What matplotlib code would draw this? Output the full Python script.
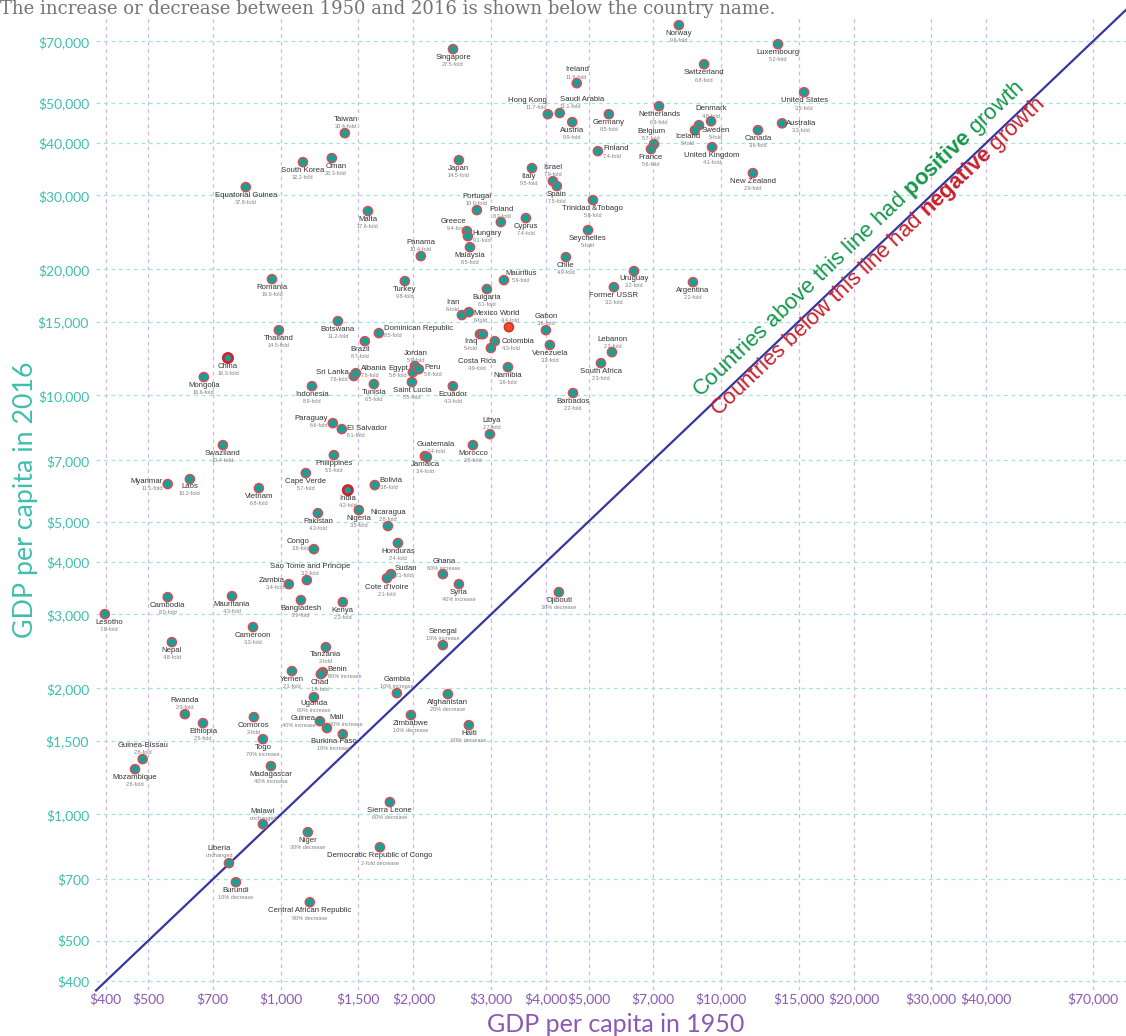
import math
import matplotlib
matplotlib.use("Agg")
import matplotlib.pyplot as plt
from matplotlib.ticker import FixedLocator, FixedFormatter, NullLocator

plt.rcParams['mathtext.fontset'] = 'custom'
plt.rcParams['mathtext.rm'] = 'Liberation Sans'
plt.rcParams['mathtext.bf'] = 'Liberation Sans:bold'

# ---------------- data ----------------
countries = [
    "Norway", "Luxembourg", "Singapore", "Switzerland", "Ireland", "United States",
    "Hong Kong", "Saudi Arabia", "Austria", "Germany", "Netherlands", "Denmark",
    "Australia", "Sweden", "Iceland", "Canada", "Belgium", "France", "Finland",
    "United Kingdom", "Taiwan", "Japan", "Israel", "Italy", "Oman", "South Korea",
    "Spain", "New Zealand", "Equatorial Guinea", "Trinidad &Tobago", "Portugal",
    "Poland", "Malta", "Cyprus", "Greece", "Hungary", "Seychelles", "Malaysia",
    "Panama", "Chile", "Uruguay", "Argentina", "Romania", "Turkey", "Mauritius",
    "Bulgaria", "Former USSR", "Iran", "Mexico", "World", "Botswana",
    "Dominican Republic", "Gabon", "Thailand", "Iraq", "", "Colombia", "Costa Rica",
    "Brazil", "Lebanon", "Venezuela", "China", "Jordan", "Sri Lanka", "Albania",
    "Egypt", "Peru", "Mongolia", "South Africa", "Tunisia", "Namibia", "Saint Lucia",
    "Indonesia", "Ecuador", "Barbados", "Libya", "Paraguay", "El Salvador",
    "Guatemala", "Morocco", "Swaziland", "Jamaica", "Philippines", "Myanmar", "Laos",
    "Cape Verde", "Bolivia", "Vietnam", "India", "Nicaragua", "Pakistan", "Nigeria",
    "Congo", "Honduras", "Ghana", "Sao Tome and Principe", "Sudan", "Zambia", "Syria",
    "Djibouti", "Cote d'Ivoire", "Cambodia", "Mauritania", "Bangladesh", "Kenya",
    "Lesotho", "Cameroon", "Senegal", "Nepal", "Tanzania", "Benin", "Yemen", "Chad",
    "Gambia", "Afghanistan", "Rwanda", "Uganda", "Comoros", "Guinea", "Mali",
    "Ethiopia", "Zimbabwe", "Haiti", "Burkina Faso", "Togo", "Guinea-Bissau",
    "Mozambique", "Madagascar", "Sierra Leone", "Malawi", "Niger",
    "Democratic Republic of Congo", "Liberia", "Burundi", "Central African Republic",
]

gdp_1950 = [
    8020, 13470, 2460, 9150, 4700, 15440,
    4040, 4300, 4590, 5560, 7230, 9490,
    13760, 8910, 8720, 12130, 7040, 6930, 5250,
    9540, 1397, 2537, 4149, 3718, 1305, 1122,
    4236, 11810, 832, 5115, 2787,
    3160, 1576, 3602, 2646, 2659, 4985, 2688,
    2079, 4441, 6340, 8633, 954, 1912, 3211,
    2937, 5708, 2577, 2673, 3296, 1347,
    1669, 4000, 989, 2832, 2877, 3062, 2999,
    1551, 5650, 4084, 758, 2015, 1464, 1480,
    1994, 2058, 668, 5335, 1626, 3279, 1984,
    1176, 2458, 4609, 2984, 1312, 1375,
    2123, 2730, 738, 2146, 1319, 553, 621,
    1139, 1634, 891, 1419, 1750, 1213, 1503,
    1188, 1844, 2333, 1145, 1778, 1042, 2537,
    4281, 1741, 553, 774, 1110, 1382,
    398, 864, 2333, 565, 1265, 1245, 1059, 1232,
    1834, 2395, 605, 1188, 868, 1226, 1272,
    665, 1974, 2673, 1382, 910, 485,
    466, 949, 1768, 910, 1151,
    1678, 762, 790, 1163,
]

gdp_2016 = [
    76500, 68900, 67050, 61700, 55600, 52900,
    46900, 47200, 44900, 46900, 49000, 45100,
    44600, 44150, 42960, 42960, 39780, 38700, 38280,
    39130, 42260, 36430, 32460, 34860, 36840, 36030,
    31590, 33920, 31410, 29240, 27680,
    25920, 27530, 26490, 24660, 23990, 24800, 22580,
    21500, 21380, 19800, 18630, 18940, 18740, 18840,
    17940, 18130, 15550, 15800, 14550, 15040,
    14080, 14310, 14310, 14000, 14000, 13470, 12970,
    13470, 12680, 13190, 12280, 11750, 11120, 11300,
    11360, 11550, 11060, 11940, 10640, 11680, 10760,
    10520, 10520, 10130, 8082, 8585, 8309,
    7164, 7609, 7609, 7125, 7202, 6143, 6312,
    6524, 6109, 6007, 5941, 4877, 5236, 5325,
    4296, 4442, 3745, 3623, 3745, 3544, 3544,
    3392, 3663, 3300, 3318, 3246, 3211,
    3006, 2799, 2535, 2577, 2507, 2185, 2198, 2161,
    1947, 1937, 1735, 1905, 1707, 1669, 1607,
    1651, 1726, 1633, 1554, 1512, 1355,
    1282, 1304, 1070, 948, 907,
    835, 765, 689, 617,
]

change_labels = [
    "9.6-fold", "5.2-fold", "27.5-fold", "6.8-fold", "11.9-fold", "3.5-fold",
    "11.7-fold", "11.1-fold", "9.9-fold", "8.5-fold", "6.9-fold", "4.8-fold",
    "3.3-fold", "5-fold", "5-fold", "3.6-fold", "5.7-fold", "5.6-fold", "7.4-fold",
    "4.1-fold", "30.4-fold", "14.5-fold", "7.9-fold", "9.5-fold", "28.3-fold", "32.2-fold",
    "7.5-fold", "2.9-fold", "37.8-fold", "5.8-fold", "10.0-fold",
    "8.3-fold", "17.6-fold", "7.4-fold", "9.4-fold", "9.1-fold", "5-fold", "8.5-fold",
    "10.4-fold", "4.9-fold", "3.2-fold", "2.2-fold", "19.9-fold", "9.8-fold", "5.9-fold",
    "6.1-fold", "3.2-fold", "6-fold", "6-fold", "4.4-fold", "11.2-fold",
    "8.5-fold", "3.6-fold", "14.5-fold", "5-fold", "", "4.3-fold", "4.9-fold",
    "8.7-fold", "2.3-fold", "3.2-fold", "16.3-fold", "5.9-fold", "7.6-fold", "7.6-fold",
    "5.8-fold", "5.8-fold", "16.6-fold", "2.3-fold", "6.5-fold", "3.6-fold", "5.5-fold",
    "8.9-fold", "4.3-fold", "2.2-fold", "2.7-fold", "6.6-fold", "6.1-fold",
    "3.4-fold", "2.8-fold", "10.4-fold", "3.4-fold", "5.5-fold", "11.1-fold", "10.2-fold",
    "5.7-fold", "3.8-fold", "6.8-fold", "4.2-fold", "2.8-fold", "4.3-fold", "3.5-fold",
    "3.6-fold", "2.4-fold", "60% increase", "3.2-fold", "2.1-fold", "3.4-fold", "40% increase",
    "30% decrease", "2.1-fold", "8.0-fold", "4.3-fold", "2.9-fold", "2.3-fold",
    "7.6-fold", "3.3-fold", "10% increase", "4.8-fold", "2-fold", "80% increase", "2.1-fold", "1.8-fold",
    "10% increase", "20% decrease", "2.9-fold", "60% increase", "2-fold", "40% increase", "30% increase",
    "2.5-fold", "10% decrease", "60% decrease", "10% increase", "70% increase", "2.8-fold",
    "2.8-fold", "40% increase", "60% decrease", "unchanged", "30% decrease",
    "2-fold decrease", "unchanged", "10% decrease", "90% decrease",
]

x_ticks = [400, 500, 700, 1000, 1500, 2000, 3000, 4000, 5000, 7000,
           10000, 15000, 20000, 30000, 40000, 70000]
y_ticks = [400, 500, 700, 1000, 1500, 2000, 3000, 4000, 5000, 7000,
           10000, 15000, 20000, 30000, 40000, 50000, 70000]

highlighted = ["China", "India"]
world_name = "World"

title_text = "The increase or decrease between 1950 and 2016 is shown below the country name."
x_label = "GDP per capita in 1950"
y_label = "GDP per capita in 2016"
above_text = r"Countries above this line had $\mathbf{positive}$ growth"
below_text = r"Countries below this line had $\mathbf{negative}$ growth"

# ---------------- label layout (pixels; dy positive = down) ----------------
BELOW = ("center", 0, 8.5)
ABOVE = ("center", 0, -13.5)
RIGHT = ("left", 5, -3.5)
LEFT = ("right", -5, -3.5)
label_layout = {
    "Hong Kong": ("right", -1, -14), "Saudi Arabia": ("left", 0, -14),
    "Denmark": ("center", 0, -12.5), "Sweden": ("center", 17, 5.5),
    "Iceland": ("center", -7, 6.5), "Belgium": ("center", -3, -13),
    "Italy": ("center", -3, 8), "Greece": ("right", -1, -10),
    "Hungary": ("left", 5, -3), "Mauritius": ("center", 17, -7),
    "Australia": ("center", 19, 0), "Brazil": ("center", -5, 8.5),
    "Jordan": ("center", 1, -13), "Albania": ("left", 5, -5),
    "Sri Lanka": ("right", -5, -4), "Egypt": ("right", -5, -4),
    "Peru": ("left", 5, -2), "Paraguay": ("right", -5, -4.5),
    "El Salvador": ("left", 5, -1), "Guatemala": ("center", 11, -12),
    "Jamaica": ("center", -2, 7.5), "Myanmar": ("right", -5, -3),
    "Laos": ("center", 0, 7), "Bolivia": ("left", 5, -5),
    "Nicaragua": ("center", 0, -14), "Congo": ("right", -4, -7.5),
    "Sao Tome and Principe": ("center", 3, -13.5), "Zambia": ("right", -4, -4),
    "Sudan": ("left", 4, -6), "Lesotho": ("center", 4, 8.5),
    "Ghana": ("center", 1, -12.5), "Iran": ("center", -9, -13),
    "Mexico": ("left", 5, 1), "World": ("center", 1, -14),
    "Gabon": ABOVE, "Iraq": ("center", -9, 7), "Colombia": ("left", 7, 0),
    "Costa Rica": ("center", -14, 13), "Lebanon": ("center", 1, -13),
    "Libya": ("center", 2, -14), "Senegal": ABOVE, "Benin": ("left", 5, -3),
    "Gambia": ABOVE, "Guinea": ("right", -4, -2.7), "Mali": ("left", 2, -11),
    "Burkina Faso": ("center", -9, 7), "Malawi": ("center", 0, -13),
    "Rwanda": ABOVE, "Guinea-Bissau": ABOVE, "Liberia": ("center", -10, -15),
    "Taiwan": ("center", 1, -13.5), "Ireland": ABOVE, "Israel": ABOVE,
    "Portugal": ABOVE, "Poland": ("center", 1, -13), "Panama": ABOVE,
    "Finland": ("left", 5, -2.3), "Dominican Republic": ("left", 5, -4.5),
    "Oman": ("center", 4, 8.5), "Tanzania": ("center", 0, 7),
    "Uganda": ("center", 0, 6.5), "Burundi": ("center", 0, 8),
    "Uruguay": ("center", 0, 7), "Cote d'Ivoire": ("center", 0, 9),
    "Chad": ("center", -1, 8),
}

# ---------------- styling ----------------
W, H = 1126, 1036
TEAL = "#3fbfae"
PURPLE = "#8b58b7"
DOT_FACE = "#17a196"
DOT_EDGE = "#e5474f"

fig = plt.figure(figsize=(W / 100, H / 100), dpi=100)
ax = fig.add_axes([96 / W, 1 - 990 / H, (1126 - 96) / W, (990 - 17) / H])
ax.set_xscale("log")
ax.set_yscale("log")
ax.set_xlim(380, 83200)
ax.set_ylim(381, 80000)
for s in ax.spines.values():
    s.set_visible(False)

ax.xaxis.set_major_locator(FixedLocator(x_ticks))
ax.xaxis.set_major_formatter(FixedFormatter([f"${v:,}" for v in x_ticks]))
ax.yaxis.set_major_locator(FixedLocator(y_ticks))
ax.yaxis.set_major_formatter(FixedFormatter([f"${v:,}" for v in y_ticks]))
ax.xaxis.set_minor_locator(NullLocator())
ax.yaxis.set_minor_locator(NullLocator())
ax.tick_params(axis="x", length=0, pad=2, labelsize=10, labelcolor=PURPLE)
ax.tick_params(axis="y", length=0, pad=5, labelsize=10, labelcolor=TEAL)
for lab in ax.get_xticklabels() + ax.get_yticklabels():
    lab.set_fontfamily("Lato")

ax.grid(axis="x", color="#cdb8ea", linestyle=(0, (3, 3)), linewidth=0.9, zorder=0)
ax.grid(axis="y", color="#a5e2da", linestyle=(0, (3, 3)), linewidth=0.9, zorder=0)
ax.set_axisbelow(True)

# diagonal y = x line spanning the axis range
lims = ax.get_xlim()
ax.plot(lims, lims, color="#3636a0", linewidth=1.6, zorder=2, clip_on=False)

# points
faces, edges, lws = [], [], []
for name in countries:
    if name == world_name:
        faces.append("#f04d25"); edges.append("#d42a2a"); lws.append(1.0)
    elif name in highlighted:
        faces.append(DOT_FACE); edges.append("#d0222c"); lws.append(2.0)
    else:
        faces.append(DOT_FACE); edges.append(DOT_EDGE); lws.append(1.0)
ax.scatter(gdp_1950, gdp_2016, s=44, c=faces, edgecolors=edges, linewidths=lws, zorder=4)

# labels
for name, x, y, ch in zip(countries, gdp_1950, gdp_2016, change_labels):
    if not name:
        continue
    ha, dx, dy = label_layout.get(name, BELOW)
    ax.annotate(name, (x, y), xytext=(dx, -dy), textcoords="offset pixels",
                ha=ha, va="center", fontsize=5.6, color="#333333",
                family="Liberation Sans", zorder=5)
    ax.annotate(ch, (x, y), xytext=(dx, -(dy + 7.3)), textcoords="offset pixels",
                ha=ha, va="center", fontsize=4.0, color="#808080",
                family="Liberation Sans", zorder=5)

renderer = fig.canvas.get_renderer()


def fit_width(t, target, vertical=False):
    bb = t.get_window_extent(renderer)
    size = bb.height if vertical else bb.width
    t.set_fontsize(t.get_fontsize() * target / size)


# title
tt = fig.text(0, 1 - 14 / H, title_text, ha="left", va="baseline",
              family="DejaVu Serif", color="#747474", fontsize=12)
fit_width(tt, 770)

# axis labels
xl = fig.text(616 / W, 1 - 1032 / H, x_label, ha="center", va="baseline",
              family="Lato", color=PURPLE, fontsize=19)
fit_width(xl, 258)
yl = fig.text(33 / W, 1 - 500 / H, y_label, ha="center", va="baseline",
              rotation=90, rotation_mode="anchor", family="Lato", color=TEAL, fontsize=21)
fit_width(yl, 276, vertical=True)

# diagonal annotations
p1 = ax.transData.transform((1000, 1000))
p2 = ax.transData.transform((10000, 10000))
angle = math.degrees(math.atan2(p2[1] - p1[1], p2[0] - p1[0]))
tmp = fig.text(0, 0, above_text, fontsize=16, family="Liberation Sans")
w0 = tmp.get_window_extent(renderer).width
tmp.remove()
diag_size = 16 * 450 / w0
inv = ax.transData.inverted()
g_anchor = inv.transform((700, H - 398))
r_anchor = inv.transform((718, H - 417))
ax.text(g_anchor[0], g_anchor[1], above_text, rotation=angle, rotation_mode="anchor",
        ha="left", va="baseline", fontsize=diag_size, color="#14964a",
        family="Liberation Sans", zorder=3)
ax.text(r_anchor[0], r_anchor[1], below_text, rotation=angle, rotation_mode="anchor",
        ha="left", va="baseline", fontsize=diag_size, color="#c8202c",
        family="Liberation Sans", zorder=3)

fig.savefig("out.png", dpi=100)
